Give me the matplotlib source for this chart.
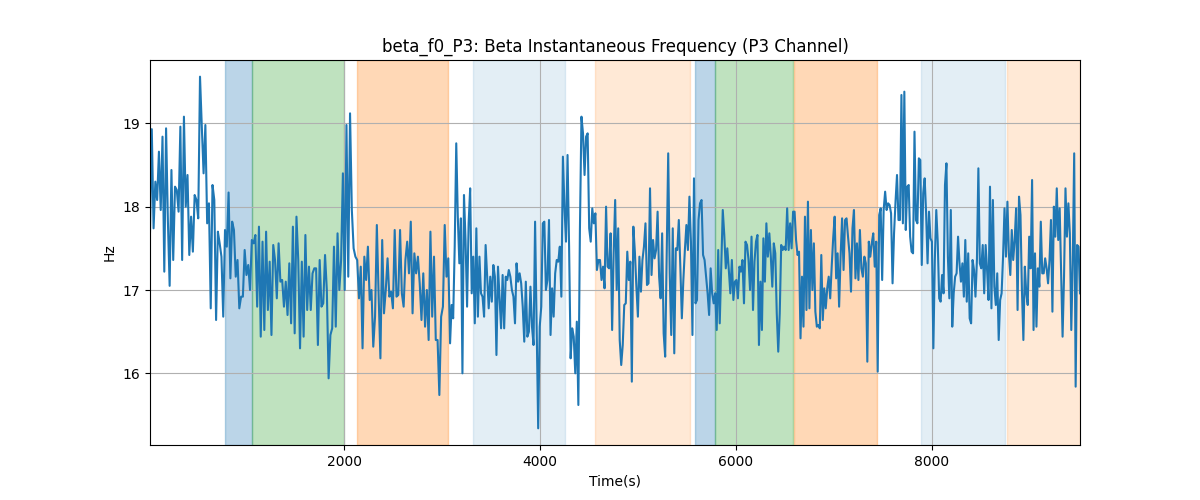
import numpy as np
import matplotlib
matplotlib.use('Agg')
from matplotlib import pyplot as plt

# signal, one list per stretch of the time axis
seg_edges = [20, 1551, 3082, 4612, 6143, 7673, 9510]

seg1 = [17.70, 18.93, 17.74, 18.30, 18.08, 18.66, 17.96, 18.84, 17.22, 18.94,
        17.84, 17.05, 18.44, 17.36, 18.24, 18.20, 17.94, 18.96, 17.36, 19.08,
        18.00, 18.38, 17.42, 17.88, 17.46, 18.14, 18.08, 17.86, 19.56, 18.96,
        18.40, 18.98, 17.80, 18.04, 16.78, 18.26, 18.08, 16.64, 17.70, 17.56,
        17.40, 16.68, 17.72, 17.52, 18.17, 17.14, 17.82, 17.72, 17.16, 17.36,
        16.78, 16.92, 16.92, 17.48, 17.18, 17.30, 17.00, 17.60, 17.56, 17.66,
        16.80, 17.76, 16.44, 17.58, 16.52, 17.70, 16.76, 17.34, 16.46, 17.54,
        17.36, 16.90, 17.56, 17.10, 17.12, 16.80, 17.10, 16.70, 17.32, 16.60,
        17.76, 16.48, 17.88, 17.36]
seg2 = [16.30, 17.34, 16.44, 17.66, 16.76, 17.28, 16.76, 17.20, 17.26, 17.26,
        16.34, 17.36, 16.80, 16.84, 17.42, 17.00, 15.94, 16.46, 16.54, 17.52,
        16.56, 17.68, 17.00, 17.36, 18.40, 17.00, 18.98, 17.16, 19.12, 17.96,
        17.50, 17.40, 17.36, 16.90, 17.28, 16.30, 17.40, 17.12, 17.52, 16.88,
        17.00, 16.32, 16.68, 17.78, 16.94, 16.18, 17.60, 16.72, 17.00, 17.38,
        16.92, 16.98, 16.78, 17.72, 16.92, 16.94, 17.72, 16.96, 16.80, 17.36,
        17.58, 17.20, 17.82, 16.72, 17.44, 17.20, 17.40, 17.08, 16.64, 17.20,
        16.56, 17.00, 16.40, 17.70, 16.68, 17.40, 16.40, 16.40, 15.74, 16.68,
        16.80, 17.78, 17.16, 17.38]
seg3 = [16.36, 16.82, 16.66, 17.52, 18.76, 17.88, 17.32, 17.86, 16.00, 18.14,
        17.60, 16.80, 17.80, 18.22, 16.96, 17.40, 16.60, 17.74, 16.68, 17.40,
        16.96, 16.92, 16.68, 17.54, 17.16, 16.78, 17.16, 16.86, 17.30, 17.16,
        16.22, 17.28, 16.92, 16.54, 17.18, 16.54, 17.16, 17.12, 17.24, 17.16,
        17.00, 16.92, 16.60, 17.32, 17.10, 17.20, 17.08, 16.80, 16.38, 17.10,
        16.44, 16.50, 17.04, 16.56, 16.34, 17.82, 16.56, 15.34, 16.56, 16.80,
        17.80, 17.82, 17.00, 17.12, 17.84, 16.46, 17.02, 16.68, 17.20, 17.36,
        17.34, 17.52, 16.92, 18.60, 18.00, 17.58, 18.62, 17.52, 16.18, 16.54,
        16.44, 16.00, 16.62, 15.62, 17.72, 19.08, 18.88, 18.38, 18.84, 18.88,
        17.74, 17.58, 17.98, 17.80, 17.92, 17.24, 17.36]
seg4 = [17.36, 17.12, 17.28, 17.02, 18.00, 17.28, 17.26, 17.68, 16.52, 17.44,
        18.08, 17.00, 17.74, 16.40, 16.10, 16.34, 16.82, 16.84, 17.46, 17.12,
        17.34, 15.90, 17.76, 17.46, 17.04, 16.68, 17.40, 16.98, 17.36, 17.52,
        17.80, 17.06, 17.08, 18.22, 17.18, 17.60, 17.38, 17.48, 17.94, 17.16,
        16.90, 17.68, 16.48, 16.20, 17.40, 18.64, 17.20, 16.46, 17.74, 16.24,
        17.50, 17.48, 17.84, 17.28, 16.66, 17.12, 17.48, 17.78, 17.48, 18.12,
        17.58, 16.46, 18.34, 16.84, 16.88, 17.84, 18.04, 18.08, 17.42, 17.36,
        17.16, 16.96, 16.70, 17.26, 16.96, 16.84, 16.96, 16.52, 17.48, 16.60,
        17.28, 17.96, 17.66, 17.26, 17.50, 17.24, 16.96, 17.36, 16.88, 17.10,
        17.12, 16.90, 17.28, 17.22, 17.36, 16.84, 17.58, 17.54, 17.36]
seg5 = [17.00, 17.64, 16.76, 17.34, 17.58, 17.66, 16.34, 17.10, 16.52, 17.62,
        17.10, 17.80, 17.40, 17.68, 17.40, 17.04, 17.56, 17.44, 16.72, 16.26,
        16.72, 17.54, 17.48, 17.52, 17.48, 17.98, 17.48, 17.80, 17.50, 17.94,
        17.94, 17.60, 17.42, 17.46, 16.42, 17.16, 16.56, 17.88, 16.76, 18.06,
        16.78, 17.72, 17.00, 17.56, 16.74, 16.56, 16.58, 16.54, 17.42, 16.64,
        17.02, 16.78, 17.02, 17.16, 16.90, 17.28, 17.62, 17.88, 17.14, 17.44,
        16.80, 17.40, 17.86, 17.24, 17.84, 17.86, 17.64, 17.44, 16.98, 17.74,
        17.96, 17.14, 17.56, 17.12, 17.72, 17.26, 17.16, 17.40, 17.32, 16.14,
        17.58, 17.40, 17.56, 17.68, 17.28, 17.58, 16.02, 17.90, 17.98, 17.12,
        17.96, 18.18, 17.96, 18.04, 18.02, 17.92, 17.08, 17.68, 18.06, 18.38,
        17.84]
seg6 = [17.84, 19.34, 17.80, 19.38, 17.72, 18.24, 18.26, 17.64, 17.46, 17.44,
        18.90, 17.84, 17.80, 18.58, 18.56, 17.30, 18.16, 18.34, 17.92, 17.32,
        17.94, 17.62, 17.58, 16.30, 17.36, 17.96, 17.58, 16.90, 16.86, 17.18,
        16.96, 18.26, 18.52, 17.40, 16.90, 17.96, 16.56, 16.96, 17.16, 17.20,
        17.64, 17.32, 17.10, 17.32, 16.92, 17.60, 16.86, 17.44, 16.66, 16.60,
        17.36, 17.24, 16.92, 17.36, 18.46, 17.32, 17.26, 17.54, 16.96, 17.54,
        17.24, 16.88, 18.24, 16.78, 18.08, 17.04, 16.82, 17.20, 16.40, 16.88,
        16.96, 17.40, 17.98, 17.40, 18.06, 17.44, 17.18, 17.72, 17.36, 17.60,
        17.98, 16.76, 18.12, 17.90, 17.00, 16.40, 17.28, 16.96, 16.82, 17.64,
        17.26, 18.32, 16.52, 17.44, 16.56, 17.26, 17.04, 17.82, 17.20, 17.20,
        17.38, 17.26, 17.08, 17.36, 17.84, 16.74, 18.00, 17.64, 18.22, 17.60,
        17.98, 17.22, 16.44, 17.16, 18.22, 17.64, 18.04, 17.68, 16.52, 17.32,
        18.64, 15.84, 17.54, 17.52, 16.96]

# shaded intervals (start, end, colour, alpha)
spans = [(785, 1058, 'tab:blue', 0.3),
         (1058, 2003, 'tab:green', 0.3),
         (2136, 3058, 'tab:orange', 0.3),
         (3313, 4255, 'tab:blue', 0.12),
         (4561, 5530, 'tab:orange', 0.17),
         (5581, 5788, 'tab:blue', 0.3),
         (5788, 6578, 'tab:green', 0.3),
         (6592, 7435, 'tab:orange', 0.3),
         (7888, 8748, 'tab:blue', 0.12),
         (8765, 9510, 'tab:orange', 0.17)]

segs = [seg1, seg2, seg3, seg4, seg5, seg6]
t = []
y = []
for i, s in enumerate(segs):
    last = i == len(segs) - 1
    t.extend(np.linspace(seg_edges[i], seg_edges[i + 1], len(s), endpoint=last))
    y.extend(s)

fig, ax = plt.subplots(figsize=(12, 5))
for a, b, c, al in spans:
    ax.axvspan(a, b, color=c, alpha=al)
ax.plot(t, y, color='tab:blue')
ax.set_xlim(seg_edges[0], seg_edges[-1])
ax.set_ylim(15.14, 19.76)
ax.set_yticks([16, 17, 18, 19])
ax.grid(True)
ax.set_title('beta_f0_P3: Beta Instantaneous Frequency (P3 Channel)')
ax.set_xlabel('Time(s)')
ax.set_ylabel('Hz')
plt.savefig('out.png')
